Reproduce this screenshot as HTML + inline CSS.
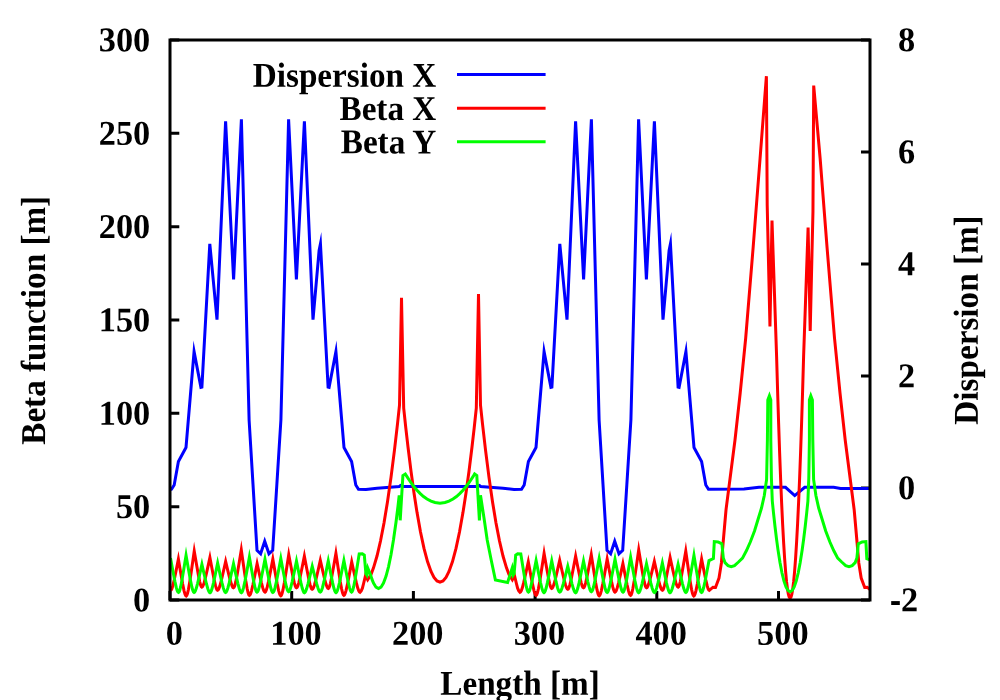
<!DOCTYPE html>
<html lang="en"><head><meta charset="utf-8"><title>Lattice functions</title>
<style>html,body{margin:0;padding:0;background:#fff;}body{width:1000px;height:700px;overflow:hidden;font-family:"Liberation Serif",serif;}svg{display:block;will-change:transform;}</style></head>
<body>
<svg width="1000" height="700" viewBox="0 0 1000 700">
<rect x="0" y="0" width="1000" height="700" fill="#ffffff"/>
<defs><clipPath id="pc"><rect x="170" y="40" width="700" height="560"/></clipPath></defs>
<g stroke-width="3" fill="none">
<path d="M457,74.6 H545.6" stroke="#0000ff"/>
<path d="M457,108.2 H545.6" stroke="#ff0000"/>
<path d="M457,141.8 H545.6" stroke="#00ff00"/>
</g>
<path d="M170,600.00 h9.3 M170,506.67 h9.3 M170,413.33 h9.3 M170,320.00 h9.3 M170,226.67 h9.3 M170,133.33 h9.3 M170,40.00 h9.3 M170.00,600 v-9 M291.70,600 v-9 M413.40,600 v-9 M535.10,600 v-9 M656.80,600 v-9 M778.50,600 v-9 M870,600.00 h-9 M870,488.00 h-9 M870,376.00 h-9 M870,264.00 h-9 M870,152.00 h-9 M870,40.00 h-9" stroke="#000" stroke-width="3" fill="none"/>
<g clip-path="url(#pc)" fill="none" stroke-width="3.0" stroke-linejoin="miter" stroke-miterlimit="10" stroke-linecap="butt">
<path d="M170.20,489.60 L171.50,489.20 L174.20,485.00 L178.40,461.50 L186.00,447.50 L194.08,351.61 L200.90,387.30 L201.90,387.00 L209.80,243.80 L217.00,319.60 L225.60,121.30 L233.60,279.40 L241.40,119.30 L249.10,420.00 L257.00,550.40 L260.61,553.79 L264.72,541.17 L268.98,553.83 L272.70,550.40 L280.90,420.00 L288.60,119.30 L296.40,279.40 L304.40,121.30 L313.00,319.60 L319.10,250.50 L320.45,243.80 L328.10,387.00 L329.10,387.30 L335.92,351.61 L344.00,447.50 L351.60,461.50 L355.80,485.00 L358.50,489.20 L366.00,489.60 L377.00,488.20 L390.00,487.20 L399.30,486.50 L400.50,485.60 L402.00,486.40 L478.00,486.40 L479.50,485.60 L480.70,486.50 L490.00,487.20 L503.00,488.20 L514.00,489.60 L521.50,489.20 L524.20,485.00 L528.40,461.50 L536.00,447.50 L544.08,351.61 L550.90,387.30 L551.90,387.00 L559.80,243.80 L567.00,319.60 L575.60,121.30 L583.60,279.40 L591.40,119.30 L599.10,420.00 L607.00,550.40 L610.61,553.79 L614.72,541.17 L618.98,553.83 L622.70,550.40 L630.90,420.00 L638.60,119.30 L646.40,279.40 L654.40,121.30 L663.00,319.60 L669.10,250.50 L670.45,243.80 L678.10,387.00 L679.10,387.30 L685.92,351.61 L694.00,447.50 L701.60,461.50 L705.80,485.00 L708.50,489.20 L744.00,489.00 L759.00,487.30 L785.50,487.30 L794.74,495.62 L804.70,487.30 L833.60,487.30 L840.60,488.50 L869.80,488.60" stroke="#0000ff"/>
<path d="M170.70,590.30 L171.24,589.94 L171.93,588.60 L172.85,585.67 L174.16,580.16 L176.08,570.79 L178.39,559.11 L180.73,572.92 L182.68,584.01 L184.01,590.53 L184.95,593.99 L185.65,595.58 L186.20,596.00 L186.76,595.49 L187.48,593.55 L188.45,589.35 L189.81,581.42 L191.82,567.95 L194.23,551.16 L196.53,564.61 L198.45,575.42 L199.75,581.77 L200.67,585.14 L201.36,586.69 L201.90,587.10 L202.46,586.76 L203.18,585.48 L204.14,582.70 L205.50,577.47 L207.50,568.56 L209.90,557.47 L212.21,569.76 L214.13,579.63 L215.44,585.43 L216.37,588.51 L217.06,589.93 L217.60,590.30 L218.16,589.97 L218.89,588.73 L219.85,586.02 L221.22,580.92 L223.23,572.26 L225.65,561.46 L228.00,571.32 L229.97,579.24 L231.30,583.89 L232.24,586.36 L232.95,587.50 L233.50,587.80 L234.05,587.37 L234.75,585.73 L235.68,582.17 L237.01,575.47 L238.96,564.07 L241.30,549.87 L243.73,566.88 L245.75,580.53 L247.13,588.56 L248.10,592.82 L248.83,594.78 L249.40,595.30 L249.94,594.94 L250.63,593.57 L251.56,590.60 L252.86,585.01 L254.79,575.50 L257.10,563.64 L259.47,574.30 L261.44,582.85 L262.79,587.88 L263.74,590.55 L264.45,591.77 L265.00,592.10 L265.55,591.72 L266.25,590.30 L267.19,587.21 L268.53,581.39 L270.48,571.49 L272.83,559.16 L275.22,572.88 L277.22,583.89 L278.57,590.36 L279.53,593.80 L280.24,595.38 L280.80,595.80 L281.36,595.33 L282.07,593.56 L283.02,589.70 L284.37,582.43 L286.36,570.08 L288.74,554.69 L291.07,567.08 L293.01,577.04 L294.33,582.89 L295.26,585.99 L295.96,587.42 L296.50,587.80 L297.05,587.44 L297.76,586.07 L298.70,583.11 L300.04,577.52 L302.00,568.01 L304.36,556.16 L306.71,568.57 L308.67,578.53 L310.01,584.38 L310.95,587.49 L311.65,588.92 L312.20,589.30 L312.77,588.97 L313.50,587.72 L314.47,585.01 L315.85,579.90 L317.88,571.22 L320.31,560.40 L322.71,570.92 L324.70,579.36 L326.06,584.33 L327.02,586.97 L327.74,588.18 L328.30,588.50 L328.83,588.10 L329.52,586.58 L330.43,583.28 L331.72,577.07 L333.62,566.50 L335.91,553.33 L338.30,569.04 L340.30,581.66 L341.66,589.07 L342.62,593.01 L343.34,594.82 L343.90,595.30 L344.45,594.92 L345.15,593.48 L346.09,590.34 L347.42,584.43 L349.37,574.38 L351.71,561.85 L354.20,573.25 L356.27,582.40 L357.68,587.78 L358.67,590.64 L359.42,591.95 L360.00,592.30 L361.20,590.90 L362.40,588.20 L363.60,583.50 L365.50,575.50 L367.65,579.69 L371.00,574.45 L373.50,567.89 L377.00,556.03 L380.50,541.04 L384.00,522.93 L387.50,501.70 L391.00,477.34 L394.50,449.86 L397.50,423.82 L399.50,405.19 L401.50,297.90 L403.70,408.27 L405.80,427.81 L408.00,447.03 L411.00,471.18 L414.00,492.96 L417.00,512.36 L420.50,531.99 L424.00,548.39 L427.50,561.55 L431.00,571.48 L434.00,577.42 L437.00,580.99 L440.00,582.17 L443.00,580.99 L446.00,577.42 L449.00,571.48 L452.50,561.55 L456.00,548.39 L459.50,531.99 L463.00,512.36 L466.00,492.96 L469.00,471.18 L472.00,447.03 L474.20,427.81 L476.30,408.27 L478.50,294.00 L480.50,405.19 L482.50,423.82 L485.50,449.86 L489.00,477.34 L492.50,501.70 L496.00,522.93 L499.50,541.04 L503.00,556.03 L506.50,567.89 L509.00,574.45 L512.35,579.69 L514.50,575.50 L516.40,583.50 L517.60,588.20 L518.80,590.90 L520.00,592.30 L520.58,591.95 L521.33,590.64 L522.32,587.78 L523.73,582.40 L525.80,573.25 L528.29,561.85 L530.63,574.38 L532.58,584.43 L533.91,590.34 L534.85,593.48 L535.55,594.92 L536.10,595.30 L536.66,594.82 L537.38,593.01 L538.34,589.07 L539.70,581.66 L541.70,569.04 L544.09,553.33 L546.38,566.50 L548.28,577.07 L549.57,583.28 L550.48,586.58 L551.17,588.10 L551.70,588.50 L552.26,588.18 L552.98,586.97 L553.94,584.33 L555.30,579.36 L557.29,570.92 L559.69,560.40 L562.12,571.22 L564.15,579.90 L565.53,585.01 L566.50,587.72 L567.23,588.97 L567.80,589.30 L568.35,588.92 L569.05,587.49 L569.99,584.38 L571.33,578.53 L573.29,568.57 L575.64,556.16 L578.00,568.01 L579.96,577.52 L581.30,583.11 L582.24,586.07 L582.95,587.44 L583.50,587.80 L584.04,587.42 L584.74,585.99 L585.67,582.89 L586.99,577.04 L588.93,567.08 L591.26,554.69 L593.64,570.08 L595.63,582.43 L596.98,589.70 L597.93,593.56 L598.64,595.33 L599.20,595.80 L599.76,595.38 L600.47,593.80 L601.43,590.36 L602.78,583.89 L604.78,572.88 L607.17,559.16 L609.52,571.49 L611.47,581.39 L612.81,587.21 L613.75,590.30 L614.45,591.72 L615.00,592.10 L615.55,591.77 L616.26,590.55 L617.21,587.88 L618.56,582.85 L620.53,574.30 L622.90,563.64 L625.21,575.50 L627.14,585.01 L628.44,590.60 L629.37,593.57 L630.06,594.94 L630.60,595.30 L631.17,594.78 L631.90,592.82 L632.87,588.56 L634.25,580.53 L636.27,566.88 L638.70,549.87 L641.04,564.07 L642.99,575.47 L644.32,582.17 L645.25,585.73 L645.95,587.37 L646.50,587.80 L647.05,587.50 L647.76,586.36 L648.70,583.89 L650.03,579.24 L652.00,571.32 L654.35,561.46 L656.77,572.26 L658.78,580.92 L660.15,586.02 L661.11,588.73 L661.84,589.97 L662.40,590.30 L662.94,589.93 L663.63,588.51 L664.56,585.43 L665.87,579.63 L667.79,569.76 L670.10,557.47 L672.50,568.56 L674.50,577.47 L675.86,582.70 L676.82,585.48 L677.54,586.76 L678.10,587.10 L678.64,586.69 L679.33,585.14 L680.25,581.77 L681.55,575.42 L683.47,564.61 L685.77,551.16 L688.18,567.95 L690.19,581.42 L691.55,589.35 L692.52,593.55 L693.24,595.49 L693.80,596.00 L694.35,595.58 L695.05,593.99 L695.99,590.53 L697.32,584.01 L699.27,572.92 L701.61,559.11 L703.92,570.79 L705.84,580.16 L707.15,585.67 L708.07,588.60 L708.76,589.94 L709.30,590.30 L713.00,587.20 L715.50,587.40 L719.00,578.00 L721.40,563.00 L723.10,543.00 L724.50,527.00 L726.00,510.00 L730.50,475.00 L735.00,440.00 L740.20,393.00 L745.70,338.00 L753.10,248.00 L760.10,158.00 L766.40,76.20 L767.20,205.00 L769.95,326.40 L772.00,220.50 L773.56,266.72 L775.08,311.58 L776.60,356.44 L777.60,390.93 L778.60,422.77 L779.60,451.96 L780.60,478.49 L781.60,502.37 L782.60,523.60 L783.60,542.17 L784.60,558.09 L785.60,571.36 L786.60,581.97 L787.50,589.26 L788.30,593.93 L789.10,596.90 L790.10,598.23 L791.10,596.90 L791.90,593.93 L792.70,589.26 L793.60,581.97 L794.60,571.36 L795.60,558.09 L796.60,542.17 L797.60,523.60 L798.60,502.37 L799.60,478.49 L800.60,451.96 L801.60,422.77 L802.60,390.93 L803.60,356.44 L805.09,313.89 L806.57,271.34 L808.10,227.50 L810.20,331.00 L812.95,212.00 L813.70,85.60 L820.10,158.00 L827.10,248.00 L834.50,338.00 L840.00,393.00 L845.20,440.00 L849.70,475.00 L854.20,510.00 L855.70,527.00 L857.10,543.00 L858.80,563.00 L861.20,578.00 L864.70,587.40 L867.20,587.20 L869.80,589.50" stroke="#ff0000"/>
<path d="M170.50,558.10 L172.90,570.98 L174.90,581.32 L176.26,587.40 L177.22,590.62 L177.94,592.11 L178.50,592.50 L179.03,592.08 L179.71,590.47 L180.61,586.99 L181.90,580.42 L183.78,569.25 L186.05,555.34 L188.46,569.25 L190.48,580.42 L191.85,586.99 L192.81,590.47 L193.54,592.08 L194.10,592.50 L194.65,592.18 L195.35,590.97 L196.29,588.33 L197.62,583.37 L199.57,574.92 L201.92,564.41 L204.34,575.00 L206.36,583.50 L207.74,588.50 L208.71,591.16 L209.43,592.38 L210.00,592.70 L210.53,592.36 L211.22,591.08 L212.14,588.30 L213.44,583.06 L215.35,574.15 L217.64,563.05 L220.03,574.07 L222.02,582.93 L223.37,588.13 L224.33,590.89 L225.04,592.16 L225.60,592.50 L226.15,592.17 L226.86,590.93 L227.81,588.24 L229.15,583.17 L231.13,574.54 L233.50,563.79 L235.87,574.61 L237.84,583.30 L239.19,588.41 L240.14,591.12 L240.85,592.37 L241.40,592.70 L241.96,592.29 L242.68,590.76 L243.63,587.43 L244.99,581.15 L246.99,570.48 L249.38,557.18 L251.67,570.26 L253.57,580.75 L254.87,586.92 L255.78,590.20 L256.47,591.70 L257.00,592.10 L257.56,591.72 L258.28,590.31 L259.24,587.22 L260.59,581.41 L262.59,571.54 L264.98,559.23 L267.36,571.69 L269.34,581.68 L270.68,587.56 L271.63,590.69 L272.35,592.12 L272.90,592.50 L273.45,592.11 L274.17,590.64 L275.11,587.45 L276.46,581.43 L278.43,571.20 L280.81,558.46 L283.14,570.91 L285.09,580.89 L286.42,586.77 L287.35,589.89 L288.05,591.32 L288.60,591.70 L289.15,591.35 L289.86,590.03 L290.81,587.16 L292.15,581.76 L294.12,572.57 L296.48,561.12 L298.86,572.94 L300.84,582.43 L302.18,588.01 L303.13,590.98 L303.85,592.34 L304.40,592.70 L304.95,592.40 L305.65,591.26 L306.59,588.79 L307.93,584.12 L309.89,576.20 L312.24,566.32 L314.66,575.97 L316.67,583.72 L318.04,588.27 L319.01,590.69 L319.74,591.81 L320.30,592.10 L320.86,591.74 L321.57,590.40 L322.53,587.48 L323.88,581.97 L325.88,572.61 L328.26,560.95 L330.59,572.84 L332.52,582.38 L333.83,587.99 L334.76,590.97 L335.46,592.34 L336.00,592.70 L336.55,592.33 L337.26,590.95 L338.21,587.93 L339.55,582.26 L341.53,572.61 L343.90,560.58 L346.21,572.38 L348.13,581.85 L349.44,587.42 L350.37,590.38 L351.06,591.74 L351.60,592.10 L352.13,591.66 L352.82,590.02 L353.73,586.43 L355.02,579.68 L356.92,568.20 L359.20,553.90 L362.30,553.80 L364.30,555.20 L365.90,573.60 L366.90,575.00 L367.90,568.40 L370.50,574.66 L372.00,579.37 L373.50,583.11 L376.00,587.17 L378.50,588.52 L381.00,587.17 L383.50,583.11 L386.00,576.34 L388.50,566.87 L391.00,554.69 L393.50,539.80 L396.00,522.21 L398.00,506.18 L399.20,495.30 L400.20,520.30 L402.90,475.60 L405.30,474.00 L407.00,476.67 L409.00,479.78 L411.50,483.40 L414.00,486.70 L417.00,490.27 L420.00,493.41 L423.50,496.51 L427.00,499.02 L431.00,501.15 L435.00,502.51 L440.00,503.12 L445.00,502.51 L449.00,501.15 L453.00,499.02 L456.50,496.51 L460.00,493.41 L463.00,490.27 L466.00,486.70 L468.50,483.40 L471.00,479.78 L473.00,476.67 L474.60,474.00 L476.80,475.60 L479.40,520.40 L480.50,495.30 L484.00,518.00 L487.20,540.00 L491.30,560.50 L495.40,580.00 L507.60,582.40 L512.10,568.40 L513.10,575.00 L514.10,573.60 L515.70,555.20 L517.70,553.80 L520.80,553.90 L523.08,568.20 L524.98,579.68 L526.27,586.43 L527.18,590.02 L527.87,591.66 L528.40,592.10 L528.94,591.74 L529.63,590.38 L530.56,587.42 L531.87,581.85 L533.79,572.38 L536.10,560.58 L538.47,572.61 L540.45,582.26 L541.79,587.93 L542.74,590.95 L543.45,592.33 L544.00,592.70 L544.54,592.34 L545.24,590.97 L546.17,587.99 L547.48,582.38 L549.41,572.84 L551.74,560.95 L554.12,572.61 L556.12,581.97 L557.47,587.48 L558.43,590.40 L559.14,591.74 L559.70,592.10 L560.26,591.81 L560.99,590.69 L561.96,588.27 L563.33,583.72 L565.34,575.97 L567.76,566.32 L570.11,576.20 L572.07,584.12 L573.41,588.79 L574.35,591.26 L575.05,592.40 L575.60,592.70 L576.15,592.34 L576.87,590.98 L577.82,588.01 L579.16,582.43 L581.14,572.94 L583.52,561.12 L585.88,572.57 L587.85,581.76 L589.19,587.16 L590.14,590.03 L590.85,591.35 L591.40,591.70 L591.95,591.32 L592.65,589.89 L593.58,586.77 L594.91,580.89 L596.86,570.91 L599.19,558.46 L601.57,571.20 L603.54,581.43 L604.89,587.45 L605.83,590.64 L606.55,592.11 L607.10,592.50 L607.65,592.12 L608.37,590.69 L609.32,587.56 L610.66,581.68 L612.64,571.69 L615.02,559.23 L617.41,571.54 L619.41,581.41 L620.76,587.22 L621.72,590.31 L622.44,591.72 L623.00,592.10 L623.53,591.70 L624.22,590.20 L625.13,586.92 L626.43,580.75 L628.33,570.26 L630.62,557.18 L633.01,570.48 L635.01,581.15 L636.37,587.43 L637.32,590.76 L638.04,592.29 L638.60,592.70 L639.15,592.37 L639.86,591.12 L640.81,588.41 L642.16,583.30 L644.13,574.61 L646.50,563.79 L648.87,574.54 L650.85,583.17 L652.19,588.24 L653.14,590.93 L653.85,592.17 L654.40,592.50 L654.96,592.16 L655.67,590.89 L656.63,588.13 L657.98,582.93 L659.97,574.07 L662.36,563.05 L664.65,574.15 L666.56,583.06 L667.86,588.30 L668.78,591.08 L669.47,592.36 L670.00,592.70 L670.57,592.38 L671.29,591.16 L672.26,588.50 L673.64,583.50 L675.66,575.00 L678.08,564.41 L680.43,574.92 L682.38,583.37 L683.71,588.33 L684.65,590.97 L685.35,592.18 L685.90,592.50 L686.46,592.08 L687.19,590.47 L688.15,586.99 L689.52,580.42 L691.54,569.25 L693.95,555.34 L696.22,569.25 L698.10,580.42 L699.39,586.99 L700.29,590.47 L700.97,592.08 L701.50,592.50 L702.02,592.14 L702.70,590.76 L703.60,587.77 L704.88,582.13 L706.75,572.54 L709.00,560.60 L713.40,558.60 L714.30,541.60 L718.00,542.00 L721.90,543.80 L723.30,558.00 L725.00,562.60 L728.00,565.60 L731.20,566.60 L734.50,565.60 L738.50,562.00 L742.50,558.20 L746.50,550.50 L750.30,542.00 L754.50,531.00 L758.00,519.50 L761.50,508.00 L764.30,495.50 L766.60,479.50 L767.40,440.00 L767.80,400.00 L769.40,395.80 L770.80,400.00 L770.80,440.00 L771.40,478.00 L772.30,501.03 L773.50,512.86 L775.00,526.48 L776.50,538.81 L778.00,549.85 L780.00,562.57 L782.00,572.99 L784.00,581.13 L786.00,586.97 L788.00,590.52 L790.10,591.79 L792.20,590.52 L794.20,586.97 L796.20,581.13 L798.20,572.99 L800.20,562.57 L802.20,549.85 L803.70,538.81 L805.20,526.48 L806.70,512.86 L807.90,501.03 L808.80,478.00 L809.40,440.00 L809.40,400.00 L810.80,395.80 L812.40,400.00 L812.80,440.00 L813.60,479.50 L815.90,495.50 L818.70,508.00 L822.20,519.50 L825.70,531.00 L829.90,542.00 L833.70,550.50 L837.70,558.20 L841.70,562.00 L845.70,565.60 L849.00,566.60 L852.20,565.60 L855.20,562.60 L856.90,558.00 L858.30,543.80 L862.20,542.00 L865.90,541.60 L866.80,558.60 L869.80,559.80" stroke="#00ff00"/>
</g>
<rect x="170" y="40" width="700" height="560" stroke="#000" stroke-width="3" fill="none"/>
<g font-family="'Liberation Serif', serif" font-weight="bold" font-size="33.3px" fill="#000">
<text transform="translate(150.2,611.40) rotate(0.03) scale(1.03,1.045)" text-anchor="end">0</text>
<text transform="translate(150.2,518.07) rotate(0.03) scale(1.03,1.045)" text-anchor="end">50</text>
<text transform="translate(150.2,424.73) rotate(0.03) scale(1.03,1.045)" text-anchor="end">100</text>
<text transform="translate(150.2,331.40) rotate(0.03) scale(1.03,1.045)" text-anchor="end">150</text>
<text transform="translate(150.2,238.07) rotate(0.03) scale(1.03,1.045)" text-anchor="end">200</text>
<text transform="translate(150.2,144.73) rotate(0.03) scale(1.03,1.045)" text-anchor="end">250</text>
<text transform="translate(150.2,51.40) rotate(0.03) scale(1.03,1.045)" text-anchor="end">300</text>
<text transform="translate(174.30,644.8) rotate(0.03) scale(1.03,1.045)" text-anchor="middle">0</text>
<text transform="translate(296.00,644.8) rotate(0.03) scale(1.03,1.045)" text-anchor="middle">100</text>
<text transform="translate(417.70,644.8) rotate(0.03) scale(1.03,1.045)" text-anchor="middle">200</text>
<text transform="translate(539.40,644.8) rotate(0.03) scale(1.03,1.045)" text-anchor="middle">300</text>
<text transform="translate(661.10,644.8) rotate(0.03) scale(1.03,1.045)" text-anchor="middle">400</text>
<text transform="translate(782.80,644.8) rotate(0.03) scale(1.03,1.045)" text-anchor="middle">500</text>
<rect x="891.2" y="601.1" width="8.6" height="3.9"/>
<text transform="translate(901.00,611.30) rotate(0.03) scale(1.03,1.045)">2</text>
<text transform="translate(898.00,499.30) rotate(0.03) scale(1.03,1.045)">0</text>
<text transform="translate(898.00,387.30) rotate(0.03) scale(1.03,1.045)">2</text>
<text transform="translate(898.00,275.30) rotate(0.03) scale(1.03,1.045)">4</text>
<text transform="translate(898.00,163.30) rotate(0.03) scale(1.03,1.045)">6</text>
<text transform="translate(898.00,51.30) rotate(0.03) scale(1.03,1.045)">8</text>
<text transform="translate(520,694.7) rotate(0.03) scale(0.997,1.045)" text-anchor="middle">Length [m]</text>
<text transform="translate(45.0,320.3) rotate(-90) rotate(0.03) scale(0.997,1.045)" text-anchor="middle">Beta function [m]</text>
<text transform="translate(977.8,320) rotate(-90) rotate(0.03) scale(0.997,1.045)" text-anchor="middle">Dispersion [m]</text>
<text transform="translate(436.3,86.8) rotate(0.03) scale(0.997,1.045)" text-anchor="end">Dispersion X</text>
<text transform="translate(436.3,120.0) rotate(0.03) scale(0.997,1.045)" text-anchor="end">Beta X</text>
<text transform="translate(436.3,153.4) rotate(0.03) scale(0.997,1.045)" text-anchor="end">Beta Y</text>
</g>
</svg>
</body></html>
